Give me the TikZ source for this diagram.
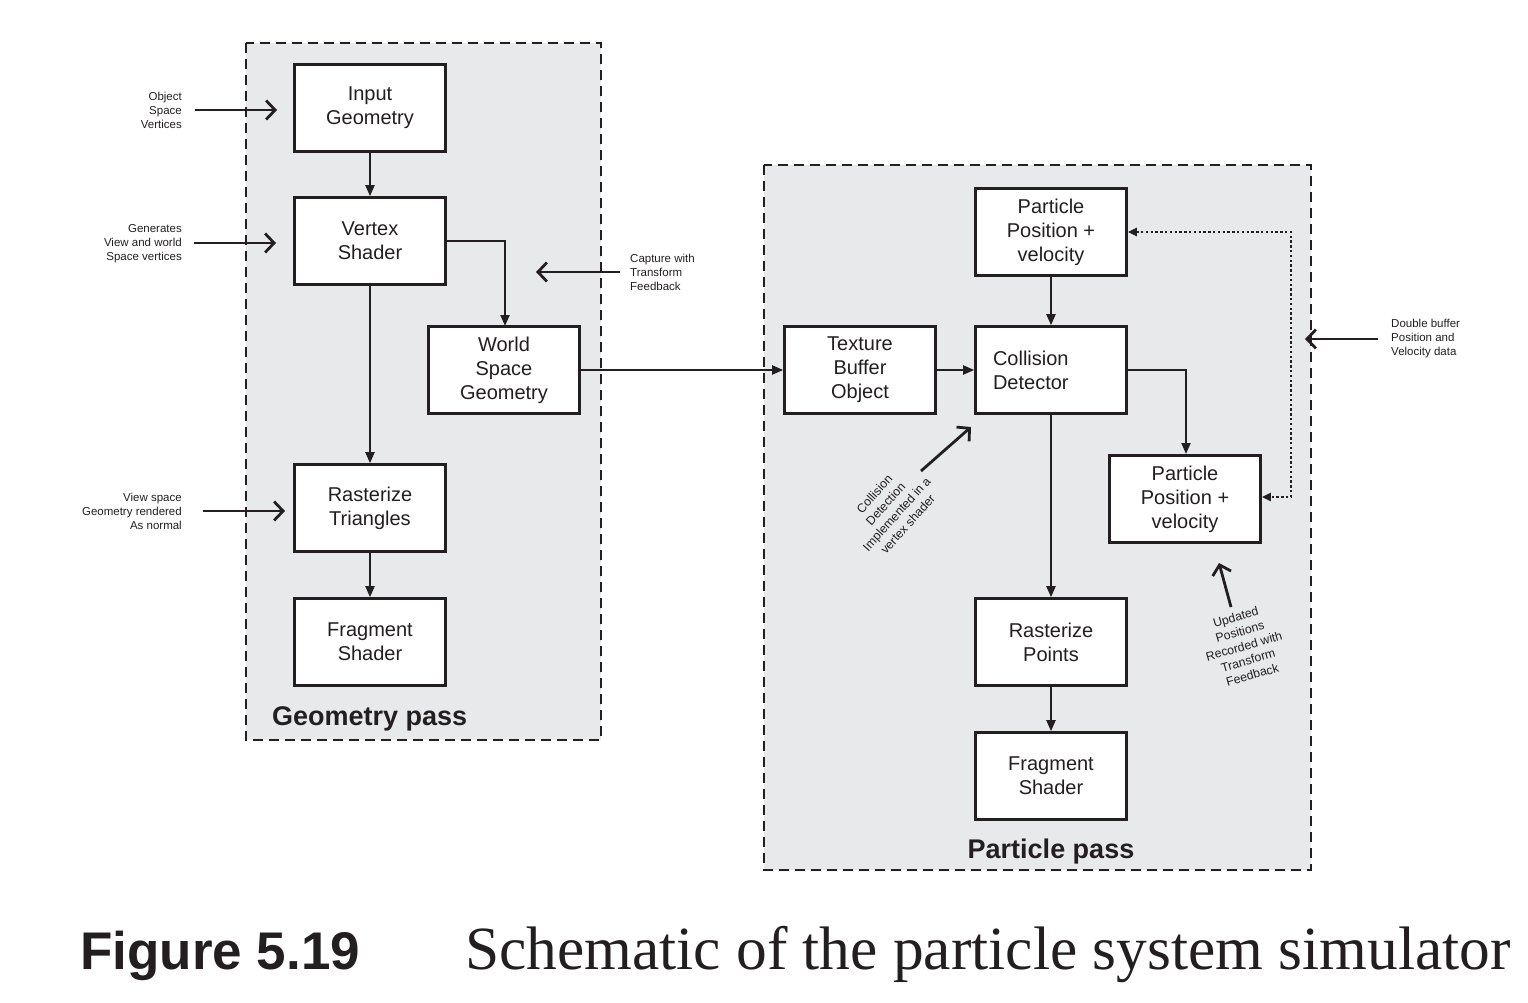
\documentclass[tikz,border=0pt]{standalone}
\usepackage{fontspec}
\setmainfont{Liberation Sans}
\newfontfamily\capserif{Liberation Serif}
\usetikzlibrary{arrows.meta}
\definecolor{passgray}{HTML}{E8E9EB}
\definecolor{ink}{HTML}{231F20}
\tikzset{
  passbox/.style={draw=ink, fill=passgray, line width=2.8pt, dash pattern=on 10pt off 6pt},
  blk/.style={draw=ink, fill=white, line width=2.6pt, minimum width=151pt, minimum height=87pt,
     inner sep=0pt, align=center, font=\fontsize{20}{24}\selectfont, text=ink},
  conn/.style={draw=ink, line width=2pt, -{Triangle[length=11pt,width=9pt]}},
  ext/.style={draw=ink, line width=2.8pt, -{Straight Barb[length=9pt,width=19pt,line width=2.8pt]}},
  dotconn/.style={draw=ink, line width=2.4pt, dash pattern=on 2.4pt off 2.4pt,
     {Triangle[length=9pt,width=8pt]}-{Triangle[length=9pt,width=8pt]}},
  note/.style={font=\fontsize{11.5}{14}\selectfont, text=ink, inner sep=0pt},
  rnote/.style={font=\fontsize{12.3}{15}\selectfont, text=ink, inner sep=0pt, align=center},
  passlabel/.style={font=\bfseries\fontsize{27}{30}\selectfont, text=ink, inner sep=0pt},
}
\begin{document}
\begin{tikzpicture}[x=1pt,y=-1pt]
\useasboundingbox (0,0) rectangle (1528,1003);
% pass regions
\path[passbox] (246,43) rectangle (601,740);
\path[passbox] (764,165) rectangle (1311,870);
% geometry pass blocks
\node[blk] (ig) at (370,108) {Input\\Geometry};
\node[blk] (vs) at (370,241) {Vertex\\Shader};
\node[blk] (ws) at (504,370) {World\\Space\\Geometry};
\node[blk] (rt) at (370,508) {Rasterize\\Triangles};
\node[blk] (fs1) at (370,642) {Fragment\\Shader};
\node[passlabel, anchor=west] (gp) at (272,719) {Geometry pass};
% particle pass blocks
\node[blk] (pt) at (1051,232) {Particle\\Position +\\velocity};
\node[blk] (tb) at (860,370) {Texture\\Buffer\\Object};
\node[blk, align=left, text width=116pt] (cd) at (1051,370) {Collision\\Detector\\[24pt]};
\node[blk] (pr) at (1185,499) {Particle\\Position +\\velocity};
\node[blk] (rp) at (1051,642) {Rasterize\\Points};
\node[blk] (fs2) at (1051,776) {Fragment\\Shader};
\node[passlabel] (pp) at (1051,852) {Particle pass};
% connectors
\draw[conn] (ig) -- (vs);
\draw[conn] (vs.east) -- (505,241) -- (505,326);
\draw[conn] (vs) -- (rt);
\draw[conn] (rt) -- (fs1);
\draw[conn] (ws.east) -- (tb.west);
\draw[conn] (tb) -- (cd);
\draw[conn] (pt) -- (cd);
\draw[conn] (cd.east |- 0,370) -- (1186,370) -- (1186,454);
\draw[conn] (cd) -- (rp);
\draw[conn] (rp) -- (fs2);
\coordinate (d1) at (1291,232);
\coordinate (d2) at (1291,497);
\draw[dotconn] (pt.east) -- (d1) -- (d2) -- (pr.east |- d2);
% external notes
\node[note, align=right, anchor=east] (n1) at (182,110) {Object\\Space\\Vertices};
\coordinate (a1) at (195,110);
\coordinate (b1) at (277,110);
\draw[ext] (a1) -- (b1);
\node[note, align=right, anchor=east] (n2) at (182,244) {Generates\\View and world\\Space vertices};
\coordinate (a2) at (194,243);
\coordinate (b2) at (276,243);
\draw[ext] (a2) -- (b2);
\node[note, align=left, anchor=west] (n3) at (630,272) {Capture with\\Transform\\Feedback};
\coordinate (a3) at (620,272);
\coordinate (b3) at (536,272);
\draw[ext] (a3) -- (b3);
\node[note, align=right, anchor=east] (n4) at (182,511) {View space\\Geometry rendered\\As normal};
\coordinate (a4) at (203,511);
\coordinate (b4) at (285,511);
\draw[ext] (a4) -- (b4);
\node[note, align=left, anchor=west] (n5) at (1391,339) {Double buffer\\Position and\\Velocity data};
\coordinate (a5) at (1378,339);
\coordinate (b5) at (1305,339);
\draw[ext] (a5) -- (b5);
\node[rnote, rotate=48] (n6) at (891,509) {Collision\\Detection\\Implemented in a\\vertex shader};
\coordinate (a6) at (921,471);
\coordinate (b6) at (971,427);
\draw[ext] (a6) -- (b6);
\node[rnote, rotate=16] (n7) at (1244,646) {Updated\\Positions\\Recorded with\\Transform\\Feedback};
\coordinate (a7) at (1231,607);
\coordinate (b7) at (1219,563);
\draw[ext] (a7) -- (b7);
% caption
\node[anchor=base west, inner sep=0pt, font=\bfseries\fontsize{53}{60}\selectfont, text=ink] (fig) at (80,969) {Figure 5.19};
\node[anchor=base west, inner sep=0pt, font=\capserif\fontsize{61.4}{70}\selectfont, text=ink] (cap) at (465,969) {Schematic of the particle system simulator};
\end{tikzpicture}
\end{document}
